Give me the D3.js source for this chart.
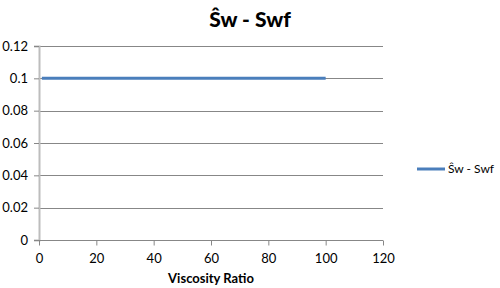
<!DOCTYPE html>
<html><head><meta charset="utf-8">
<script src="https://cdn.jsdelivr.net/npm/d3@7"></script>
<style>body{margin:0;background:#fff;} svg{display:block;font-family:Lato, "Open Sans", sans-serif;}</style>
</head><body>
<svg id="c" width="500" height="288"></svg>
<script>
const xValues = [1, 10, 20, 30, 40, 50, 60, 70, 80, 90, 100];
const yValues = [0.1, 0.1, 0.1, 0.1, 0.1, 0.1, 0.1, 0.1, 0.1, 0.1, 0.1];
const xTicks = [0, 20, 40, 60, 80, 100, 120];
const yTicks = [0, 0.02, 0.04, 0.06, 0.08, 0.1, 0.12];
const seriesName = "Ŝw - Swf";
const chartTitle = "Ŝw - Swf";
const xTitle = "Viscosity Ratio";

const svg = d3.select("#c");
const x = d3.scaleLinear().domain([0, 120]).range([39, 383]);
const y = d3.scaleLinear().domain([0, 0.12]).range([240, 46]);

// gridlines
svg.append("g").selectAll("line").data(yTicks.filter(d => d > 0)).join("line")
  .attr("x1", x(0)).attr("x2", x(120))
  .attr("y1", d => Math.round(y(d)) + 0.5).attr("y2", d => Math.round(y(d)) + 0.5)
  .attr("stroke", "#878787").attr("stroke-width", 1);

// y axis
const yAxis = svg.append("g").attr("transform", `translate(${x(0)},0)`)
  .call(d3.axisLeft(y).tickValues(yTicks).tickSize(5).tickPadding(6)
    .tickFormat(d => d3.format("~g")(+d.toFixed(2))));
yAxis.select(".domain").attr("stroke", "#bdbdbd").attr("stroke-width", 2);
yAxis.selectAll(".tick line").attr("stroke", "#878787");
yAxis.selectAll("text").attr("font-size", 13).attr("fill", "#000").attr("font-family", "Lato, sans-serif");

// x axis
const xAxis = svg.append("g").attr("transform", `translate(0,${Math.round(y(0)) + 0.5})`)
  .call(d3.axisBottom(x).tickValues(xTicks).tickSize(5).tickPadding(8));
xAxis.select(".domain").attr("stroke", "#878787").attr("d", `M${x(0)},0H${x(120)}`);
xAxis.selectAll(".tick line").attr("stroke", "#878787");
xAxis.selectAll("text").attr("font-size", 13).attr("fill", "#000").attr("font-family", "Lato, sans-serif");

// series line
const line = d3.line().x((d, i) => x(xValues[i])).y(d => y(d));
svg.append("path").datum(yValues).attr("d", line)
  .attr("fill", "none").attr("stroke", "#4a7ebb").attr("stroke-width", 3);

// title
svg.append("text").attr("x", 250).attr("y", 27).attr("text-anchor", "middle")
  .attr("font-size", 21).attr("font-weight", "900").text(chartTitle);

// x title
svg.append("text").attr("x", x(60)).attr("y", 283).attr("text-anchor", "middle")
  .attr("font-size", 13).attr("font-weight", "bold").text(xTitle);

// legend
svg.append("line").attr("x1", 417).attr("x2", 445).attr("y1", 169).attr("y2", 169)
  .attr("stroke", "#4a7ebb").attr("stroke-width", 3);
svg.append("text").attr("x", 448).attr("y", 173).attr("font-size", 12).text(seriesName);
</script>
</body></html>
